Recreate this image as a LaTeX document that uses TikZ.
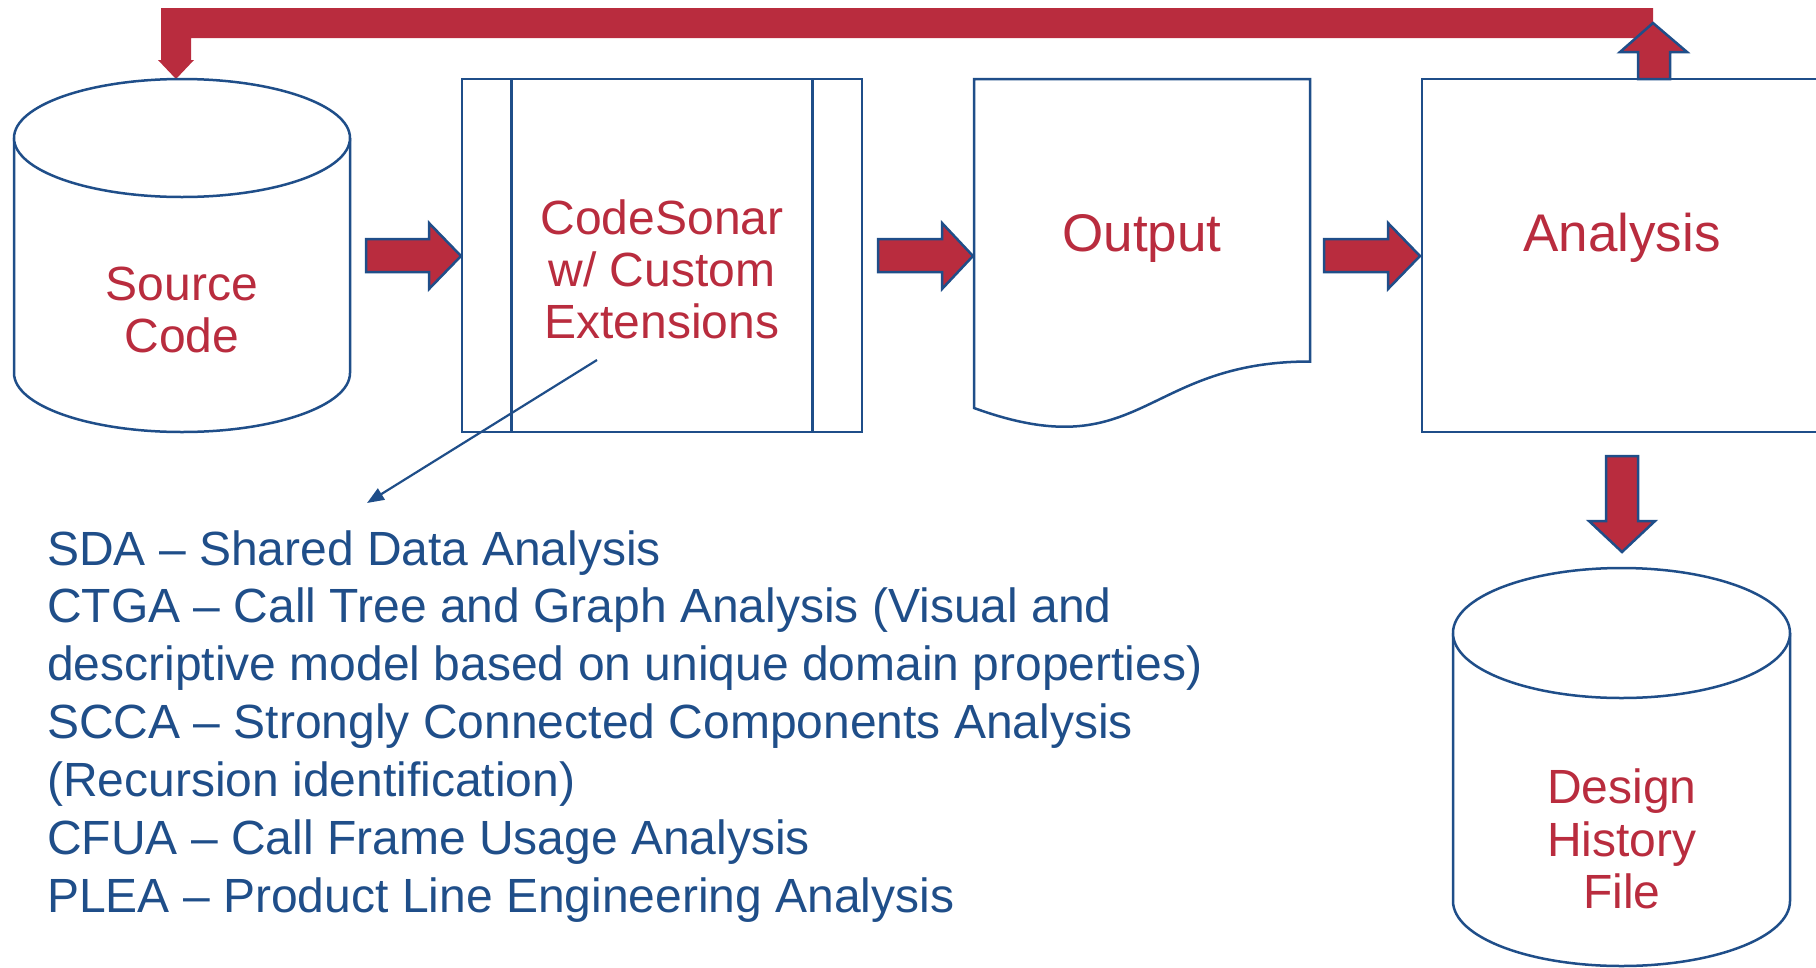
\documentclass[tikz,border=0pt]{standalone}
\usepackage{fontspec}
\setmainfont{Liberation Sans}
\usetikzlibrary{arrows.meta,calc}
\definecolor{dred}{RGB}{185,44,62}
\definecolor{dblue}{RGB}{31,78,137}
\begin{document}
\begin{tikzpicture}[x=1pt,y=-1pt,
  outline/.style={draw=dblue,line width=2.5pt,fill=white},
  blockarrow/.style={fill=dred,draw=dblue,line width=2.5pt,line join=miter},
  redlbl/.style={text=dred,font=\fontsize{48}{52}\selectfont,inner sep=0pt,anchor=base},
  biglbl/.style={text=dred,font=\fontsize{53}{60}\selectfont,inner sep=0pt,anchor=base},
  listline/.style={text=dblue,font=\fontsize{48}{58}\selectfont,inner sep=0pt,anchor=base west},
  pointer/.style={draw=dblue,line width=2.2pt,-{Triangle[length=17pt,width=13pt]}}
]
\clip (0,0) rectangle (1816,967);
\useasboundingbox (0,0) rectangle (1816,967);

% feedback bar (Analysis -> Source Code)
\fill[dred] (161,8) -- (1653,8) -- (1653,38) -- (191,38) -- (191,60) -- (194,60)
  -- (176,79) -- (158,60) -- (161,60) -- cycle;

% Source Code cylinder
\draw[outline] (14,138) -- (14,373) arc[start angle=180,end angle=360,x radius=168pt,y radius=59pt] -- (350,138);
\draw[outline] (182,138) ellipse [x radius=168pt,y radius=59pt];
\node[redlbl] (src1) at (182,300) {Source};
\node[redlbl] (src2) at (182,352) {Code};

% CodeSonar predefined process
\draw[outline] (462,79) rectangle (862,432);
\draw[dblue,line width=2.5pt] (511.5,79) -- (511.5,432);
\draw[dblue,line width=2.5pt] (812.5,79) -- (812.5,432);
\node[redlbl] (cs1) at (662,234) {CodeSonar};
\node[redlbl] (cs2) at (662,286) {w/ Custom};
\node[redlbl] (cs3) at (662,338) {Extensions};

% Output document
\draw[outline] (974,79) -- (1310,79) -- (1310,361.5)
  .. controls (1142,361.5) and (1142,469) .. (974,408) -- cycle;
\node[biglbl] (out) at (1142,251) {Output};

% Analysis box
\draw[outline] (1422,79) rectangle (1830,432);
\node[biglbl] (ana) at (1622,251) {Analysis};

% Up arrow from Analysis into feedback bar
\draw[blockarrow] (1638,79) -- (1638,52) -- (1620,52) -- (1653,23) -- (1687,52)
  -- (1670,52) -- (1670,79) -- cycle;

% right block arrows
\draw[blockarrow] (366,239) -- (429,239) -- (429,223) -- (461,256) -- (429,289) -- (429,272) -- (366,272) -- cycle;
\draw[blockarrow] (878,239) -- (942,239) -- (942,223) -- (973,256) -- (942,289) -- (942,272) -- (878,272) -- cycle;
\draw[blockarrow] (1324,239) -- (1388,239) -- (1388,223) -- (1420,256) -- (1388,289) -- (1388,272) -- (1324,272) -- cycle;

% down block arrow
\draw[blockarrow] (1606,456) -- (1638,456) -- (1638,521) -- (1655,521) -- (1622,552)
  -- (1589,521) -- (1606,521) -- cycle;

% Design History File cylinder
\draw[outline] (1453,633) -- (1453,901) arc[start angle=180,end angle=360,x radius=168.5pt,y radius=65pt] -- (1790,633);
\draw[outline] (1621.5,633) ellipse [x radius=168.5pt,y radius=65pt];
\node[redlbl] (dhf1) at (1622,803) {Design};
\node[redlbl] (dhf2) at (1622,856) {History};
\node[redlbl] (dhf3) at (1622,908) {File};

% list of extensions
\node[listline] (l1) at (47,565.0) {SDA – Shared Data Analysis};
\node[listline] (l2) at (47,622.9) {CTGA – Call Tree and Graph Analysis (Visual and};
\node[listline] (l3) at (47,680.8) {descriptive model based on unique domain properties)};
\node[listline] (l4) at (47,738.7) {SCCA – Strongly Connected Components Analysis};
\node[listline] (l5) at (47,796.6) {(Recursion identification)};
\node[listline] (l6) at (47,854.5) {CFUA – Call Frame Usage Analysis};
\node[listline] (l7) at (47,912.4) {PLEA – Product Line Engineering Analysis};

% pointer from CodeSonar to list
\coordinate (cstail) at (597,360);
\coordinate (listhead) at (367,503);
\draw[pointer] (cstail) -- (listhead);
\end{tikzpicture}
\end{document}
